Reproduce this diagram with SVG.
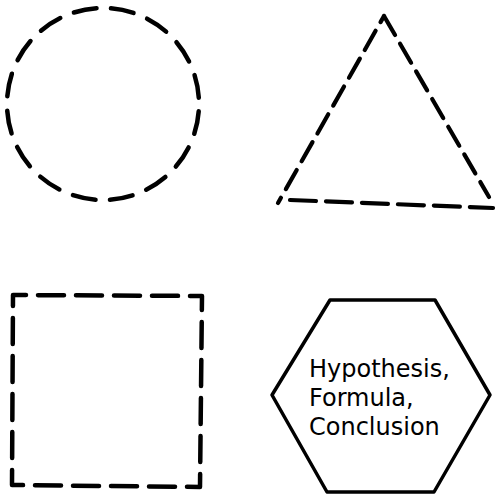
<svg xmlns="http://www.w3.org/2000/svg" width="496" height="500" viewBox="0 0 496 500">
<style>
.sh{fill:none;stroke:#000;stroke-linecap:round;stroke-linejoin:round}
.lbl{font-family:"DejaVu Sans",sans-serif;font-size:24px;fill:#000}
</style>
<rect width="496" height="500" fill="#fff"/>
<g id="circle">
<circle class="sh" cx="103" cy="104" r="96" stroke-width="4.5" stroke-dasharray="23 14.7" stroke-dashoffset="30.35"/>
</g>
<g id="triangle">
<path class="sh" d="M384 16 L278 203" stroke-width="4.2" stroke-dasharray="22 10" stroke-dashoffset="15"/>
<path class="sh" d="M384 16 L489 197" stroke-width="4.2" stroke-dasharray="22 10"/>
<path class="sh" d="M290 200 L493 208" stroke-width="4.2" stroke-dasharray="26 10"/>
</g>
<g id="square">
<path class="sh" d="M13 295 L202 296 L200 487 L12 485 Z" stroke-width="4.5" stroke-dasharray="26 12" stroke-dashoffset="13"/>
</g>
<g id="hexagon">
<polygon class="sh" points="330,300 435,300 490,395 434,492 327,492 272,395" stroke-width="3.5"/>
<text class="lbl" x="309" y="377">Hypothesis,</text>
<text class="lbl" x="309" y="406">Formula,</text>
<text class="lbl" x="309" y="435">Conclusion</text>
</g>
</svg>
